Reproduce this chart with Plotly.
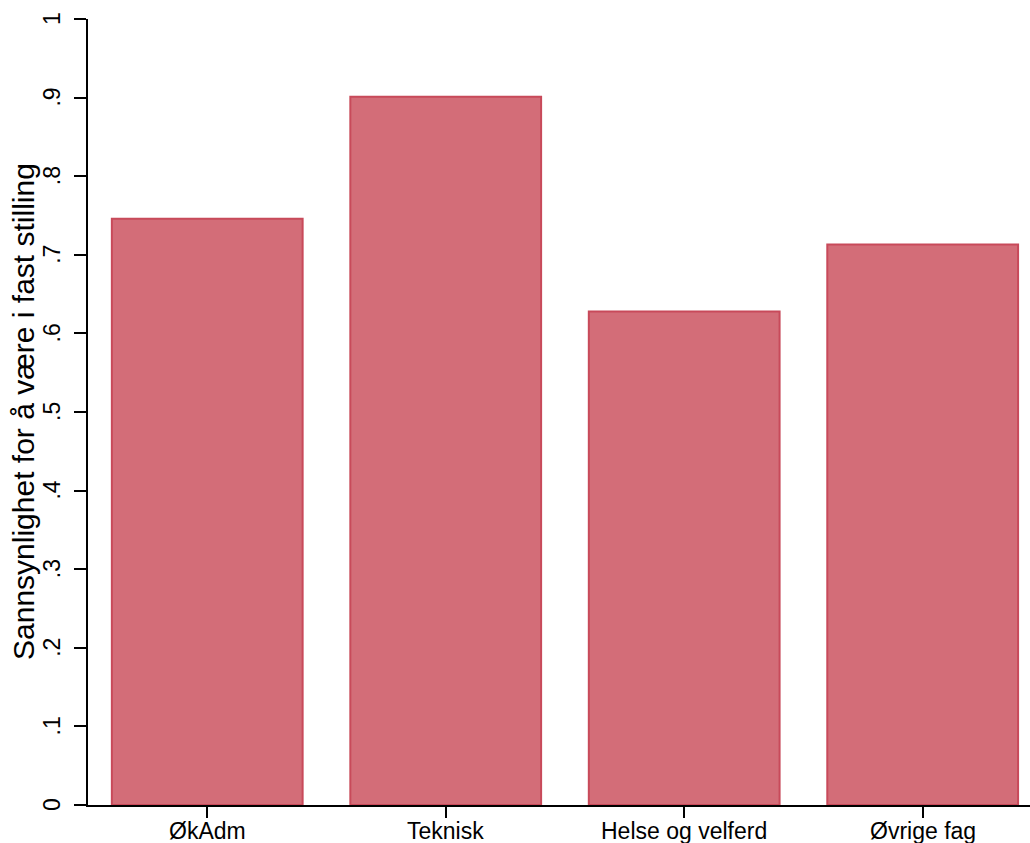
import plotly.graph_objects as go

# Data
categories = ['ØkAdm', 'Teknisk', 'Helse og velferd', 'Øvrige fag']
probabilities = [0.746, 0.901, 0.628, 0.713]
y_ticks = [0, 0.1, 0.2, 0.3, 0.4, 0.5, 0.6, 0.7, 0.8, 0.9, 1]
y_tick_labels = ['0', '.1', '.2', '.3', '.4', '.5', '.6', '.7', '.8', '.9', '1']
y_title = 'Sannsynlighet for å være i fast stilling'

trace = go.Bar(
    x=categories,
    y=probabilities,
    width=0.8,
    marker=dict(color='#D36D78', line=dict(color='#C84A5A', width=2)),
)

# rotated y tick labels, centred on their ticks (Stata style)
annotations = [dict(x=0, xref='paper', y=v, yref='y', text=t, textangle=-90,
                    xanchor='right', yanchor='middle', xshift=-21,
                    showarrow=False, font=dict(size=23))
               for v, t in zip(y_ticks, y_tick_labels)]

# x category labels
annotations += [dict(x=c, xref='x', y=0, yref='paper', text=c,
                     xanchor='center', yanchor='top', yshift=-11,
                     showarrow=False, font=dict(size=23))
                for c in categories]

annotations.append(dict(x=0, xref='paper', y=0.5, yref='paper', text=y_title,
                        textangle=-90, xanchor='center', yanchor='middle',
                        xshift=-65, showarrow=False, font=dict(size=30)))

layout = go.Layout(
    width=1030,
    height=843,
    margin=dict(l=88, r=0, t=19, b=38),
    paper_bgcolor='white',
    plot_bgcolor='white',
    font=dict(family='Liberation Sans, Arial, sans-serif', color='black', size=23),
    showlegend=False,
    annotations=annotations,
    xaxis=dict(
        range=[-0.5, 3.45],
        showline=True, linecolor='black', linewidth=2,
        ticks='outside', ticklen=11, tickwidth=1.5, tickcolor='black',
        showticklabels=False,
        showgrid=False, zeroline=False, automargin=False,
    ),
    yaxis=dict(
        range=[0, 1],
        tickvals=y_ticks,
        showline=True, linecolor='black', linewidth=2,
        ticks='outside', ticklen=12, tickwidth=1.5, tickcolor='black',
        showticklabels=False,
        showgrid=False, zeroline=False, automargin=False,
    ),
)

fig = go.Figure(data=[trace], layout=layout)
# drop the default page margin so the figure fills the window
fig.write_html('out.html', config={'displayModeBar': False},
               post_script="document.body.style.margin='0';document.body.style.overflow='hidden';")
